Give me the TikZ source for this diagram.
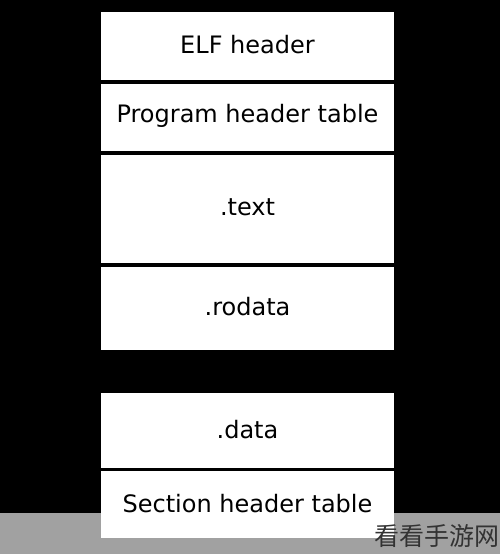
\documentclass[tikz,border=0pt]{standalone}
\usepackage{fontspec}
\setmainfont{DejaVu Sans}
\newfontfamily\cjk{Noto Sans CJK SC}
\tikzset{
  seg/.style={draw=black, fill=white, line width=3.5pt, minimum width=296pt, inner sep=0pt,
    font=\fontsize{24}{28}\selectfont, text=black, text depth=3pt},
}
\begin{document}
\begin{tikzpicture}[x=1pt,y=-1pt]
\fill[black] (0,0) rectangle (500,554);
\useasboundingbox (0,0) rectangle (500,554);
\node[seg, minimum height=71.5pt] (elf) at (247.5,46.25) {ELF header};
\node[seg, minimum height=71pt, text depth=8.7pt] (pht) at (247.5,117.5) {Program header table};
\node[seg, minimum height=112pt] (text) at (247.5,209) {.text};
\node[seg, minimum height=86.5pt] (rodata) at (247.5,308.25) {.rodata};
\node[seg, minimum height=78pt] (data) at (247.5,430.5) {.data};
\node[seg, minimum height=70pt] (sht) at (247.5,504.5) {Section header table};
\fill[white, opacity=0.63] (0,513) rectangle (500,554);
\node[font=\cjk\fontsize{25}{28}\selectfont, text=black!80, inner sep=0pt] (wm) at (437,536) {看看手游网};
\end{tikzpicture}
\end{document}
